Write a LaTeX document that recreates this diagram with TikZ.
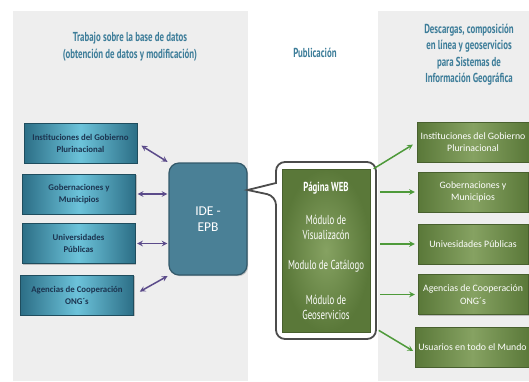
\documentclass[tikz,border=0pt]{standalone}
\usepackage{fontspec}
\setmainfont{Carlito}
\newfontfamily\titlefont[FakeStretch=0.68]{PT Sans}
\usepackage{tikz}
\usetikzlibrary{positioning, calc, arrows, shapes, shadows}
\definecolor{panelgrey}{HTML}{EEEEEE}
\definecolor{titleblue}{HTML}{3D7D99}
\definecolor{blueD}{HTML}{2C6E86}
\definecolor{blueL}{HTML}{6CC3DA}
\definecolor{bluetext}{HTML}{1C3450}
\definecolor{idefill}{HTML}{4A8096}
\definecolor{ideline}{HTML}{33596A}
\definecolor{greenD}{HTML}{5A7839}
\definecolor{greenL}{HTML}{86A262}
\definecolor{arrowpurple}{HTML}{5B4B8A}
\definecolor{arrowgreen}{HTML}{4E9A3A}
\tikzset{panel/.style={fill=panelgrey, draw=none}}
\tikzset{heading/.style={text=titleblue, align=center, font=\titlefont\bfseries\fontsize{13}{16.5}\selectfont}}
\tikzset{source/.style={draw=blueD!70!black, left color=blueD, right color=blueD, middle color=blueL, minimum width=113pt, minimum height=40pt, align=center, text=bluetext, font=\bfseries\fontsize{8.8}{12}\selectfont, drop shadow={opacity=0.45, shadow xshift=1.2pt, shadow yshift=-1.2pt}}}
\tikzset{target/.style={draw=greenD!80!black, left color=greenD, right color=greenD, middle color=greenL, minimum width=110pt, minimum height=40pt, align=center, text=white, font=\fontsize{9.8}{12.5}\selectfont, drop shadow={opacity=0.45, shadow xshift=1.2pt, shadow yshift=-1.2pt}}}
\tikzset{module/.style={text=white, align=center, font=\titlefont\fontsize{13}{15}\selectfont}}
\tikzset{exchange/.style={stealth-stealth, arrowpurple, line width=1.5pt}}
\tikzset{deliver/.style={-stealth, arrowgreen, line width=1.5pt}}

\begin{document}
\begin{tikzpicture}[x=1pt, y=-1pt]
      \useasboundingbox (0,0) rectangle (529,381);
      \fill[white] (0,0) rectangle (529,381);
      \path[panel] (13,11) rectangle (248,381);
      \path[panel] (378,11) rectangle (529,381);

      % headings
      \node[heading] (hwork) at (130,47) {Trabajo sobre la base de datos\\(obtenci\'on de datos y modificaci\'on)};
      \node[heading] (hpub) at (315,53) {Publicaci\'on};
      \node[heading] (hdown) at (469,54.5) {Descargas, composici\'on\\en l\'inea y geoservicios\\para Sistemas de\\Informaci\'on Geogr\'afica};

      % sources on the left
      \node[source] (inst) at (80.5,143) {Instituciones del Gobierno\\Plurinacional};
      \node[source] (gob) at (79,194) {Gobernaciones y\\Municipios};
      \node[source] (uni) at (78.5,243.5) {Universidades\\P\'ublicas};
      \node[source] (agen) at (77,295) {Agencias de Cooperaci\'on\\ONG´s};

      \node[draw=ideline, line width=1.2pt, fill=idefill, rounded corners=10pt, minimum width=78pt, minimum height=112pt, text=white, align=center, font=\fontsize{13.5}{16}\selectfont, drop shadow={opacity=0.4, shadow xshift=1.2pt, shadow yshift=-1.2pt}] (ide) at (208,219) {IDE -\\EPB};

      \draw[exchange, shorten <=5pt, shorten >=1pt] (inst.east) -- (ide.north west);
      \draw[exchange, shorten <=2pt, shorten >=1pt] (gob.east) -- (gob.east -| ide.west);
      \draw[exchange, shorten <=2pt, shorten >=1pt] (uni.east) -- (uni.east -| ide.west);
      \draw[exchange, shorten <=7pt, shorten >=1pt] (agen.east) -- (ide.south west);

      % callout with the modules
      \coordinate (tip) at ([yshift=29pt]ide.east);
      \draw[draw=black!70, line width=1.8pt, fill=white, rounded corners=9pt] (326,162) -- (376,162) -- (376,339) -- (276,339) -- (276,196) {[sharp corners] -- (tip) -- (276,183)} -- (276,162) -- cycle;
      \node[draw=greenD!80!black, inner color=greenL, outer color=greenD, minimum width=88pt, minimum height=163pt] (pub) at (326,250.5) {};
      \node[module, font=\titlefont\bfseries\fontsize{13}{15}\selectfont] (web) at (326,188) {P\'agina WEB};
      \node[module] (vis) at (326,227.5) {M\'odulo de\\Visualizac\'on};
      \node[module] (cat) at (326,266) {Modulo de Cat\'alogo};
      \node[module] (geo) at (326,307.5) {M\'odulo de\\Geoservicios};

      % users on the right
      \node[target] (rinst) at (473,142) {Instituciones del Gobierno\\Plurinacional};
      \node[target] (rgob) at (473,192) {Gobernaciones y\\Municipios};
      \node[target] (runi) at (473,244) {Univesidades P\'ublicas};
      \node[target] (ragen) at (473,294.5) {Agencias de Cooperaci\'on\\ONG´s};
      \node[target, minimum width=111pt] (rusr) at (472.5,347) {Usuarios en todo el Mundo};

      \draw[deliver, shorten <=4pt, shorten >=5pt] ([yshift=-2pt]pub.north east) -- (rinst.west);
      \draw[deliver, shorten <=10pt, shorten >=3pt] (pub.east |- rgob.west) -- (rgob.west);
      \draw[deliver, shorten <=10pt, shorten >=3pt] (pub.east |- runi.west) -- (runi.west);
      \draw[deliver, shorten <=10pt, shorten >=3pt] (pub.east |- ragen.west) -- (ragen.west);
      \draw[deliver, shorten <=10pt, shorten >=2pt] ([yshift=7pt]pub.south east) -- ([yshift=-5pt]rusr.west);
    \end{tikzpicture}
\end{document}
